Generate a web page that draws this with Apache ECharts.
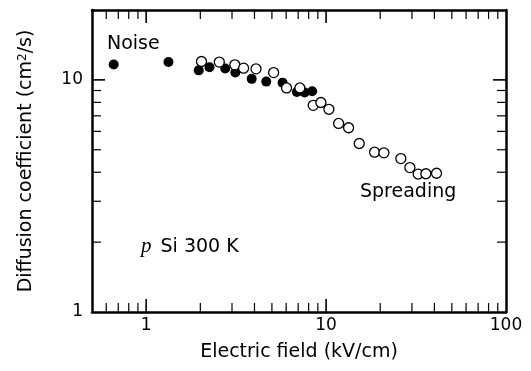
<!DOCTYPE html>
<html>
<head>
<meta charset="utf-8">
<script src="https://cdn.jsdelivr.net/npm/echarts@6/dist/echarts.min.js"></script>
<style>
  html, body { margin: 0; padding: 0; background: #ffffff; }
  #chart { width: 531px; height: 371px; }
</style>
</head>
<body>
<div id="chart"></div>
<script>
// 噪声法数据 (实心点)
const noiseField = [0.66, 1.33, 1.96, 2.25, 2.75, 3.13, 3.86, 4.65, 5.73, 6.88, 7.60, 8.37];
const noiseDiff = [11.65, 11.93, 10.99, 11.33, 11.19, 10.75, 10.1, 9.83, 9.73, 8.87, 8.83, 8.94];

// 扩散法数据 (空心点)
const spreadField = [2.03, 2.55, 3.11, 3.48, 4.08, 5.11, 6.03, 7.15, 8.48, 9.36, 10.37, 11.74, 13.34, 15.28, 18.6, 20.96, 26.04, 29.22, 32.5, 35.86, 41.1];
const spreadDiff = [12.0, 11.93, 11.61, 11.23, 11.16, 10.75, 9.23, 9.23, 7.77, 7.99, 7.47, 6.49, 6.22, 5.32, 4.88, 4.85, 4.58, 4.19, 3.93, 3.94, 3.96];

// 坐标轴范围与刻度
const xRange = [0.5, 100];
const yRange = [1, 20];
const xMajorTicks = [1, 10];
const xMinorTicks = [0.6, 0.7, 0.8, 0.9, 2, 3, 4, 5, 6, 7, 8, 9, 20, 30, 40, 50, 60, 70, 80, 90];
const yMajorTicks = [10];
const yMinorTicks = [2, 3, 4, 5, 6, 7, 8, 9];

const FONT = 'DejaVu Sans';

const zip = (xs, ys) => xs.map((x, i) => [x, ys[i]]);

// 刻度数据: [x, y, 方向, 是否主刻度]
const tickData = [
  ...xMajorTicks.map(v => [v, yRange[0], 'x', 1]),
  ...xMinorTicks.map(v => [v, yRange[0], 'x', 0]),
  ...yMajorTicks.map(v => [xRange[0], v, 'y', 1]),
  ...yMinorTicks.map(v => [xRange[0], v, 'y', 0]),
];

// 画四边向内的刻度
const renderTick = (params, api) => {
  const dir = api.value(2);
  const len = api.value(3) ? 13 : 9;
  const v = dir === 'x' ? api.value(0) : api.value(1);
  const style = { stroke: '#000', lineWidth: api.value(3) ? 1.6 : 1.2 };
  if (dir === 'x') {
    const b = api.coord([v, yRange[0]]);
    const t = api.coord([v, yRange[1]]);
    return {
      type: 'group',
      children: [
        { type: 'line', shape: { x1: b[0], y1: b[1], x2: b[0], y2: b[1] - len }, style },
        { type: 'line', shape: { x1: t[0], y1: t[1], x2: t[0], y2: t[1] + len }, style },
      ],
    };
  }
  const l = api.coord([xRange[0], v]);
  const r = api.coord([xRange[1], v]);
  return {
    type: 'group',
    children: [
      { type: 'line', shape: { x1: l[0], y1: l[1], x2: l[0] + len, y2: l[1] }, style },
      { type: 'line', shape: { x1: r[0], y1: r[1], x2: r[0] - len, y2: r[1] }, style },
    ],
  };
};

const isDecade = v => v >= 1 && Math.abs(Math.log10(v) - Math.round(Math.log10(v))) < 1e-6;

const axisLineStyle = { show: true, lineStyle: { color: '#000', width: 2.5 } };

const chart = echarts.init(document.getElementById('chart'));

const option = {
  animation: false,
  backgroundColor: '#ffffff',
  grid: { left: 92, right: 25, top: 10, bottom: 59, outerBoundsMode: 'none' },
  xAxis: [
    {
      type: 'log',
      logBase: 10,
      min: xRange[0],
      max: xRange[1],
      name: 'Electric field (kV/cm)',
      nameLocation: 'middle',
      nameGap: 31,
      nameTextStyle: { fontFamily: FONT, fontSize: 19, color: '#000' },
      axisLine: axisLineStyle,
      axisTick: { show: false },
      splitLine: { show: false },
      axisLabel: {
        fontFamily: FONT,
        fontSize: 17,
        color: '#000',
        margin: 5,
        formatter: v => (isDecade(v) ? String(Math.round(v)) : ''),
      },
    },
    {
      type: 'log',
      position: 'top',
      min: xRange[0],
      max: xRange[1],
      axisLine: axisLineStyle,
      axisTick: { show: false },
      axisLabel: { show: false },
      splitLine: { show: false },
    },
  ],
  yAxis: [
    {
      type: 'log',
      logBase: 10,
      min: yRange[0],
      max: yRange[1],
      name: 'Diffusion coefficient (cm{sup|2}/s)',
      nameLocation: 'middle',
      nameGap: 56,
      nameTextStyle: {
        fontFamily: FONT,
        fontSize: 19,
        color: '#000',
        rich: {
          sup: { fontFamily: FONT, fontSize: 12, color: '#000', verticalAlign: 'top', lineHeight: 14 },
        },
      },
      axisLine: axisLineStyle,
      axisTick: { show: false },
      splitLine: { show: false },
      axisLabel: {
        fontFamily: FONT,
        fontSize: 17,
        color: '#000',
        margin: 9,
        formatter: v => (isDecade(v) ? String(Math.round(v)) : ''),
      },
    },
    {
      type: 'log',
      position: 'right',
      min: yRange[0],
      max: yRange[1],
      axisLine: axisLineStyle,
      axisTick: { show: false },
      axisLabel: { show: false },
      splitLine: { show: false },
    },
  ],
  series: [
    {
      type: 'custom',
      name: 'ticks',
      renderItem: renderTick,
      data: tickData,
      silent: true,
      z: 1,
    },
    {
      type: 'scatter',
      name: 'Noise',
      symbol: 'circle',
      symbolSize: 10,
      itemStyle: { color: '#000', opacity: 1 },
      data: zip(noiseField, noiseDiff),
      z: 3,
    },
    {
      type: 'scatter',
      name: 'Spreading',
      symbol: 'circle',
      symbolSize: 10,
      itemStyle: { color: '#fff', borderColor: '#000', borderWidth: 1.3, opacity: 1 },
      data: zip(spreadField, spreadDiff),
      z: 4,
    },
  ],
  graphic: [
    {
      type: 'text',
      left: 107,
      top: 35,
      style: { text: 'Noise', font: '19px "DejaVu Sans"', fill: '#000' },
    },
    {
      type: 'text',
      left: 360,
      top: 183,
      style: { text: 'Spreading', font: '19px "DejaVu Sans"', fill: '#000' },
    },
    {
      type: 'text',
      left: 141,
      top: 236,
      style: {
        text: '{i|p}{t|Si 300 K}',
        fill: '#000',
        rich: {
          i: { fontFamily: 'Liberation Serif', fontStyle: 'italic', fontSize: 21, lineHeight: 22, verticalAlign: 'bottom', fill: '#000', padding: [0, 9, 0, 0] },
          t: { fontFamily: FONT, fontSize: 19, lineHeight: 22, verticalAlign: 'bottom', fill: '#000' },
        },
      },
    },
  ],
};

chart.setOption(option);
</script>
</body>
</html>
